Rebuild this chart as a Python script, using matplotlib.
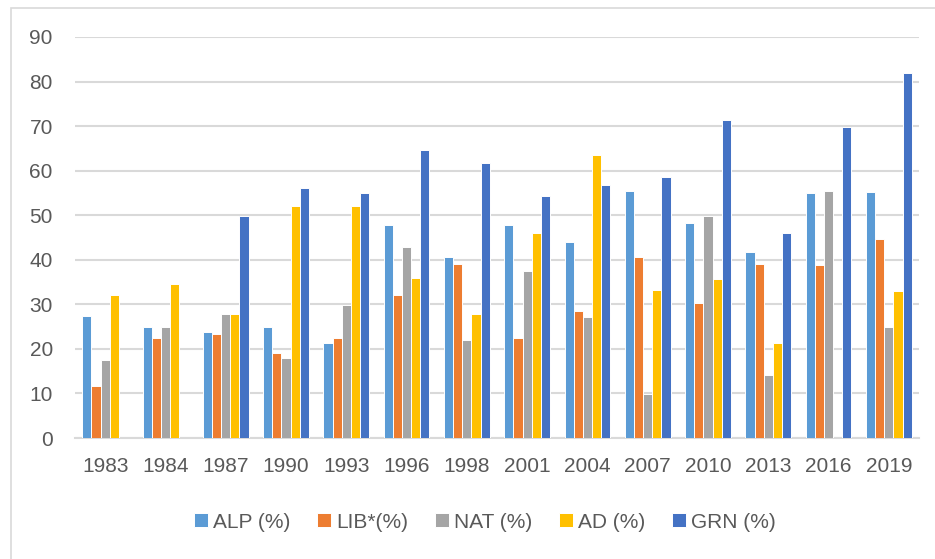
import matplotlib.pyplot as plt
import numpy as np
from matplotlib.patches import Rectangle

years = ['1983', '1984', '1987', '1990', '1993', '1996', '1998',
         '2001', '2004', '2007', '2010', '2013', '2016', '2019']
alp = [27.4, 24.9, 23.8, 24.9, 21.3, 47.9, 40.6, 47.9, 43.9, 55.4, 48.3, 41.8, 55.0, 55.2]
lib = [11.7, 22.5, 23.3, 19.1, 22.5, 32.0, 39.1, 22.5, 28.4, 40.6, 30.3, 39.1, 38.8, 44.7]
nat = [17.5, 24.9, 27.8, 18.0, 29.9, 42.8, 22.1, 37.4, 27.2, 9.9, 49.9, 14.1, 55.5, 24.9]
ad = [32.2, 34.5, 27.8, 52.1, 52.1, 35.9, 27.8, 46.1, 63.5, 33.2, 35.6, 21.3, 0, 32.9]
grn = [0, 0, 49.9, 56.1, 54.9, 64.6, 61.8, 54.4, 56.7, 58.5, 71.4, 46.1, 69.8, 82.0]

series = [alp, lib, nat, ad, grn]
labels = ['ALP (%)', 'LIB*(%)', 'NAT (%)', 'AD (%)', 'GRN (%)']
colors = ['#5B9BD5', '#ED7D31', '#A5A5A5', '#FFC000', '#4472C4']

plt.rcParams['font.family'] = ['Liberation Sans', 'DejaVu Sans']

fig = plt.figure(figsize=(9.35, 5.59), dpi=100)
fig.patches.append(Rectangle((11 / 935, -0.1), 1.2, 1 - 8 / 559 + 0.1,
                             transform=fig.transFigure, fill=False,
                             edgecolor='#D9D9D9', linewidth=1.2))
ax = fig.add_axes([75 / 935, 1 - 438 / 559, (919 - 75) / 935, (438 - 37) / 559])

x = np.arange(len(years))
w = 0.152
for i, (vals, lab, col) in enumerate(zip(series, labels, colors)):
    ax.bar(x + (i - 2) * w, vals, w, color=col, edgecolor='white',
           linewidth=0.7, label=lab, zorder=3)

ax.set_xlim(-0.5, len(years) - 0.5)
ax.set_ylim(0, 90)
ax.set_yticks(range(0, 91, 10))
ax.set_xticks(x)
ax.set_xticklabels(years)
ax.grid(axis='y', color='#D9D9D9', linewidth=1.5, zorder=0)
ax.set_axisbelow(True)
for s in ['top', 'right', 'left']:
    ax.spines[s].set_visible(False)
ax.spines['bottom'].set_color('#D9D9D9')
ax.spines['bottom'].set_linewidth(1.5)
ax.tick_params(axis='both', length=0, labelsize=15, labelcolor='#595959')
ax.tick_params(axis='y', pad=16)
ax.tick_params(axis='x', pad=14)

fig.legend(loc='center', bbox_to_anchor=(485 / 935, 1 - 522 / 559), ncol=5,
           frameon=False, fontsize=15, labelcolor='#595959',
           handlelength=0.65, handleheight=0.65, handletextpad=0.25,
           columnspacing=1.3)

fig.savefig('out.png', dpi=100)
